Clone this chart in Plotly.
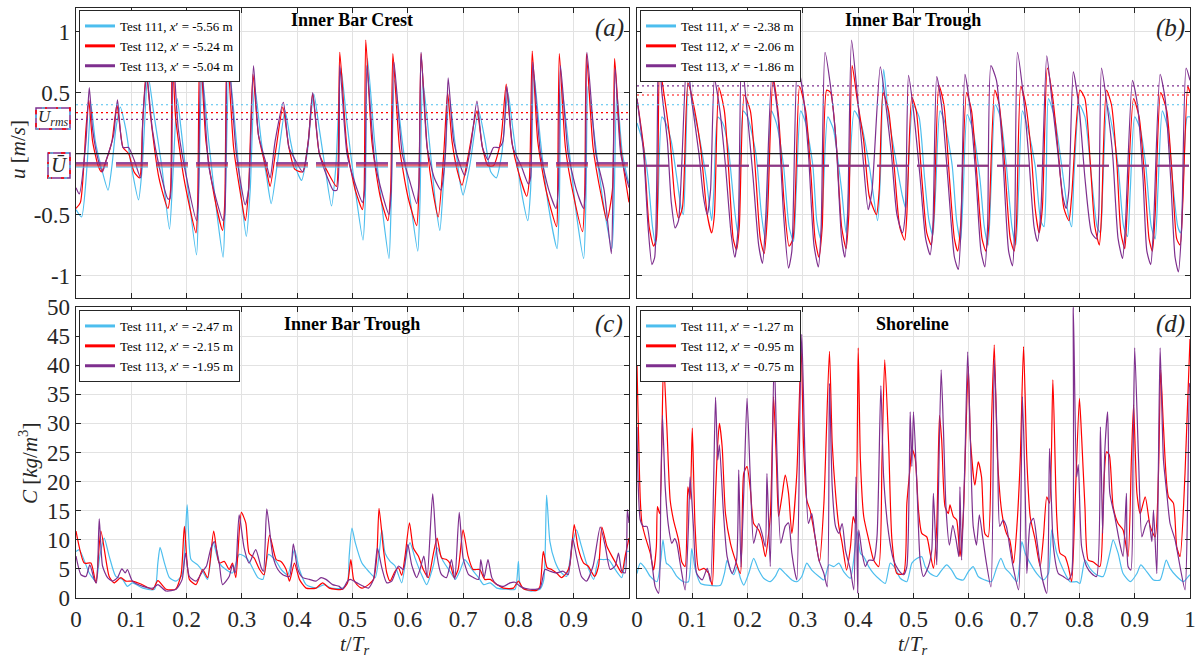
import plotly.graph_objects as go

# ---------------- DATA ----------------
# Panel (a) Inner Bar Crest: (t/Tr, u [m/s])
a111 = [(0,-0.46),(0.01,-0.52),(0.02,-0.1),(0.027,0.4),(0.035,0.1),(0.045,-0.1),(0.058,-0.3),(0.065,-0.1),(0.072,0.2),(0.08,0.38),(0.09,0.2),(0.1,-0.1),(0.113,-0.38),(0.12,-0.1),(0.13,0.65),(0.14,0.35),(0.155,-0.1),(0.169,-0.62),(0.175,-0.2),(0.183,0.45),(0.19,0.2),(0.2,-0.2),(0.218,-0.83),(0.222,-0.3),(0.228,0.65),(0.24,0.1),(0.255,-0.5),(0.266,-0.85),(0.27,-0.4),(0.277,0.7),(0.29,0.1),(0.3,-0.4),(0.308,-0.68),(0.315,-0.3),(0.323,0.55),(0.335,0.1),(0.345,-0.2),(0.353,-0.41),(0.365,-0.05),(0.378,0.35),(0.388,0.1),(0.4,-0.15),(0.408,-0.22),(0.418,0.0),(0.43,0.49),(0.44,0.2),(0.45,-0.1),(0.462,-0.43),(0.47,-0.1),(0.479,0.7),(0.49,0.25),(0.505,-0.3),(0.519,-0.71),(0.523,-0.4),(0.527,0.78),(0.54,0.1),(0.555,-0.5),(0.566,-0.86),(0.57,-0.4),(0.576,0.6),(0.59,0.1),(0.605,-0.4),(0.618,-0.8),(0.622,-0.4),(0.627,0.6),(0.64,0.05),(0.65,-0.4),(0.658,-0.63),(0.665,-0.2),(0.675,0.45),(0.685,0.1),(0.695,-0.25),(0.7,-0.34),(0.712,-0.1),(0.728,0.35),(0.74,0.1),(0.75,-0.15),(0.76,-0.2),(0.77,0.0),(0.781,0.5),(0.79,0.2),(0.805,-0.3),(0.817,-0.55),(0.822,-0.3),(0.828,0.65),(0.84,0.1),(0.855,-0.45),(0.87,-0.78),(0.874,-0.4),(0.878,0.55),(0.89,0.1),(0.905,-0.5),(0.918,-0.86),(0.922,-0.4),(0.926,0.55),(0.94,0.05),(0.955,-0.45),(0.969,-0.78),(0.973,-0.4),(0.978,0.5),(0.988,0.0),(1.0,-0.25)]
a112 = [(0,-0.45),(0.008,-0.4),(0.018,0.2),(0.023,0.44),(0.03,0.1),(0.04,-0.1),(0.046,-0.15),(0.055,-0.05),(0.065,0.1),(0.074,0.4),(0.085,0.05),(0.095,0.0),(0.105,-0.15),(0.115,-0.2),(0.12,0.2),(0.127,0.68),(0.135,0.3),(0.15,-0.2),(0.166,-0.45),(0.171,-0.3),(0.174,0.85),(0.18,0.3),(0.195,-0.2),(0.217,-0.65),(0.22,-0.4),(0.224,0.9),(0.235,0.1),(0.25,-0.35),(0.265,-0.63),(0.269,-0.4),(0.273,0.88),(0.285,0.05),(0.3,-0.4),(0.306,-0.55),(0.312,-0.3),(0.32,0.65),(0.33,0.15),(0.345,-0.15),(0.351,-0.27),(0.362,0.05),(0.374,0.38),(0.385,0.05),(0.396,-0.13),(0.41,-0.15),(0.42,0.1),(0.428,0.49),(0.44,0.0),(0.455,-0.15),(0.471,-0.27),(0.474,-0.1),(0.477,0.83),(0.49,0.05),(0.505,-0.3),(0.518,-0.46),(0.521,-0.3),(0.524,0.93),(0.535,0.1),(0.55,-0.35),(0.564,-0.55),(0.569,-0.3),(0.573,0.82),(0.585,0.05),(0.6,-0.35),(0.616,-0.59),(0.62,-0.3),(0.624,0.82),(0.635,0.05),(0.645,-0.3),(0.655,-0.52),(0.665,0.0),(0.672,0.5),(0.68,0.1),(0.69,-0.15),(0.698,-0.26),(0.71,0.0),(0.725,0.35),(0.735,0.05),(0.745,-0.1),(0.755,-0.1),(0.768,0.1),(0.778,0.57),(0.788,0.1),(0.8,-0.15),(0.815,-0.35),(0.82,-0.2),(0.825,0.84),(0.835,0.1),(0.85,-0.3),(0.869,-0.6),(0.871,-0.3),(0.874,0.82),(0.885,0.05),(0.9,-0.35),(0.916,-0.64),(0.92,-0.3),(0.923,0.82),(0.935,0.05),(0.95,-0.35),(0.96,-0.55),(0.97,-0.3),(0.974,0.78),(0.985,0.05),(1.0,-0.4)]
a113 = [(0,-0.28),(0.006,-0.33),(0.018,0.1),(0.024,0.54),(0.03,0.2),(0.04,-0.05),(0.048,-0.15),(0.055,-0.05),(0.062,0.05),(0.068,0.15),(0.075,0.44),(0.085,0.05),(0.095,0.05),(0.105,-0.05),(0.117,-0.2),(0.121,0.3),(0.128,0.64),(0.138,0.2),(0.15,-0.1),(0.166,-0.37),(0.17,-0.37),(0.175,0.85),(0.185,0.2),(0.2,-0.2),(0.218,-0.55),(0.221,-0.4),(0.226,0.8),(0.24,-0.1),(0.255,-0.4),(0.266,-0.55),(0.269,-0.5),(0.274,0.88),(0.29,0.0),(0.306,-0.42),(0.312,-0.3),(0.321,0.72),(0.33,0.15),(0.345,-0.1),(0.351,-0.2),(0.36,0.1),(0.375,0.42),(0.385,0.05),(0.396,-0.05),(0.41,-0.15),(0.42,0.1),(0.428,0.5),(0.44,0.0),(0.455,-0.2),(0.465,-0.3),(0.472,-0.3),(0.477,0.72),(0.49,0.0),(0.505,-0.25),(0.518,-0.4),(0.522,-0.3),(0.526,0.72),(0.54,-0.05),(0.555,-0.35),(0.566,-0.5),(0.57,-0.3),(0.575,0.75),(0.59,0.0),(0.605,-0.25),(0.616,-0.41),(0.62,-0.25),(0.624,0.83),(0.635,0.05),(0.648,-0.2),(0.66,-0.3),(0.668,0.0),(0.673,0.62),(0.683,0.1),(0.695,-0.1),(0.703,-0.18),(0.715,0.1),(0.725,0.43),(0.735,0.05),(0.745,-0.05),(0.755,0.05),(0.765,0.05),(0.772,0.1),(0.779,0.55),(0.79,0.05),(0.805,-0.1),(0.818,-0.25),(0.822,-0.2),(0.826,0.75),(0.84,0.0),(0.855,-0.3),(0.868,-0.45),(0.872,-0.3),(0.876,0.72),(0.89,0.0),(0.905,-0.3),(0.918,-0.45),(0.921,-0.3),(0.924,0.83),(0.94,0.0),(0.955,-0.3),(0.968,-0.82),(0.971,-0.3),(0.975,0.7),(0.985,0.0),(1.0,-0.28)]

# Panel (b) Inner Bar Trough: (t/Tr, u [m/s])
b111 = [(0,0.25),(0.01,0.1),(0.02,-0.2),(0.028,-0.6),(0.034,-0.75),(0.038,-0.4),(0.045,0.3),(0.052,0.25),(0.062,0.1),(0.072,-0.2),(0.08,-0.45),(0.084,-0.5),(0.088,0.0),(0.093,0.65),(0.1,0.4),(0.11,0.2),(0.125,-0.2),(0.135,-0.55),(0.139,-0.3),(0.146,0.3),(0.155,0.25),(0.165,0.05),(0.175,-0.4),(0.182,-0.65),(0.186,-0.3),(0.192,0.35),(0.2,0.3),(0.215,0.0),(0.225,-0.5),(0.232,-0.7),(0.236,-0.3),(0.243,0.35),(0.252,0.25),(0.265,-0.1),(0.275,-0.6),(0.283,-0.72),(0.288,-0.3),(0.296,0.35),(0.305,0.25),(0.318,-0.1),(0.325,-0.55),(0.332,-0.7),(0.337,-0.3),(0.345,0.3),(0.355,0.2),(0.37,-0.3),(0.378,-0.65),(0.383,-0.3),(0.393,0.35),(0.405,0.25),(0.42,-0.1),(0.435,-0.55),(0.44,-0.2),(0.446,0.69),(0.455,0.3),(0.47,-0.1),(0.48,-0.35),(0.486,-0.45),(0.49,-0.2),(0.499,0.4),(0.51,0.3),(0.52,-0.2),(0.528,-0.55),(0.535,-0.67),(0.54,-0.3),(0.548,0.35),(0.557,0.25),(0.57,-0.1),(0.578,-0.55),(0.585,-0.72),(0.59,-0.3),(0.597,0.32),(0.607,0.2),(0.62,-0.2),(0.628,-0.6),(0.635,-0.75),(0.64,-0.3),(0.648,0.4),(0.657,0.3),(0.668,-0.1),(0.678,-0.6),(0.685,-0.75),(0.69,-0.3),(0.697,0.35),(0.707,0.2),(0.72,-0.1),(0.73,-0.55),(0.736,-0.6),(0.74,-0.2),(0.744,0.45),(0.755,0.3),(0.768,-0.1),(0.78,-0.5),(0.786,-0.6),(0.79,-0.2),(0.8,0.4),(0.81,0.3),(0.822,-0.2),(0.832,-0.6),(0.838,-0.65),(0.842,-0.3),(0.85,0.4),(0.86,0.2),(0.87,-0.1),(0.88,-0.6),(0.887,-0.68),(0.892,-0.3),(0.9,0.3),(0.91,0.2),(0.92,-0.1),(0.93,-0.6),(0.937,-0.7),(0.942,-0.3),(0.95,0.35),(0.96,0.2),(0.97,-0.3),(0.978,-0.6),(0.983,-0.65),(0.988,-0.2),(0.995,0.3),(1.0,0.3)]
b112 = [(0,0.45),(0.012,0.05),(0.022,-0.6),(0.03,-0.76),(0.035,-0.7),(0.041,0.7),(0.05,0.45),(0.06,0.1),(0.068,-0.35),(0.075,-0.53),(0.082,-0.45),(0.092,0.58),(0.1,0.45),(0.115,0.05),(0.127,-0.5),(0.135,-0.65),(0.14,-0.5),(0.148,0.54),(0.158,0.35),(0.168,-0.3),(0.174,-0.7),(0.18,-0.79),(0.185,-0.6),(0.194,0.48),(0.205,0.35),(0.215,-0.2),(0.223,-0.7),(0.23,-0.82),(0.236,-0.5),(0.246,0.62),(0.256,0.3),(0.266,-0.4),(0.275,-0.76),(0.282,-0.7),(0.294,0.55),(0.305,0.35),(0.315,-0.2),(0.322,-0.7),(0.329,-0.85),(0.335,-0.6),(0.343,0.52),(0.35,0.5),(0.36,0.1),(0.37,-0.6),(0.378,-0.78),(0.383,-0.5),(0.389,0.72),(0.398,0.45),(0.41,0.1),(0.42,-0.35),(0.433,-0.5),(0.438,-0.3),(0.445,0.5),(0.455,0.35),(0.465,-0.1),(0.475,-0.6),(0.484,-0.71),(0.488,-0.5),(0.497,0.46),(0.505,0.35),(0.515,-0.2),(0.524,-0.65),(0.532,-0.75),(0.537,-0.5),(0.546,0.56),(0.555,0.4),(0.565,-0.2),(0.574,-0.7),(0.58,-0.8),(0.585,-0.6),(0.596,0.5),(0.605,0.35),(0.615,-0.2),(0.624,-0.7),(0.631,-0.8),(0.636,-0.6),(0.647,0.52),(0.655,0.4),(0.665,-0.1),(0.675,-0.7),(0.682,-0.8),(0.686,-0.6),(0.694,0.55),(0.703,0.4),(0.713,0.0),(0.72,-0.45),(0.727,-0.65),(0.733,-0.45),(0.742,0.7),(0.752,0.45),(0.762,0.0),(0.772,-0.45),(0.781,-0.55),(0.786,-0.35),(0.801,0.52),(0.81,0.45),(0.82,-0.1),(0.828,-0.6),(0.836,-0.75),(0.84,-0.5),(0.849,0.52),(0.858,0.4),(0.868,-0.1),(0.875,-0.65),(0.882,-0.78),(0.886,-0.5),(0.898,0.45),(0.908,0.3),(0.918,-0.2),(0.926,-0.7),(0.932,-0.8),(0.937,-0.5),(0.947,0.5),(0.958,0.35),(0.968,-0.2),(0.976,-0.7),(0.982,-0.75),(0.987,-0.4),(0.996,0.55),(1.0,0.5)]
b113 = [(0,0.45),(0.012,0.0),(0.02,-0.6),(0.027,-0.91),(0.032,-0.85),(0.039,0.89),(0.045,0.5),(0.055,0.1),(0.062,-0.4),(0.069,-0.61),(0.075,-0.55),(0.09,0.77),(0.1,0.4),(0.112,0.0),(0.12,-0.35),(0.127,-0.5),(0.133,-0.3),(0.14,0.61),(0.15,0.35),(0.16,-0.1),(0.17,-0.65),(0.177,-0.85),(0.183,-0.6),(0.189,0.78),(0.2,0.3),(0.21,-0.2),(0.22,-0.75),(0.227,-0.9),(0.233,-0.5),(0.244,0.64),(0.255,0.3),(0.265,-0.5),(0.274,-0.94),(0.28,-0.8),(0.29,0.72),(0.3,0.5),(0.31,0.0),(0.32,-0.75),(0.328,-0.93),(0.333,-0.6),(0.34,0.83),(0.35,0.55),(0.36,0.1),(0.37,-0.7),(0.376,-0.85),(0.381,-0.5),(0.388,0.93),(0.398,0.5),(0.408,0.0),(0.418,-0.46),(0.425,-0.3),(0.44,0.71),(0.45,0.4),(0.46,0.0),(0.47,-0.5),(0.48,-0.65),(0.485,-0.5),(0.491,0.64),(0.5,0.35),(0.512,-0.2),(0.522,-0.7),(0.53,-0.83),(0.535,-0.6),(0.542,0.63),(0.552,0.35),(0.562,-0.2),(0.574,-0.85),(0.581,-0.95),(0.586,-0.6),(0.593,0.65),(0.603,0.35),(0.613,-0.2),(0.622,-0.8),(0.629,-0.93),(0.634,-0.6),(0.64,0.72),(0.65,0.6),(0.66,0.1),(0.672,-0.8),(0.679,-0.92),(0.683,-0.6),(0.688,0.83),(0.698,0.5),(0.708,0.0),(0.718,-0.6),(0.724,-0.72),(0.73,-0.5),(0.741,0.8),(0.75,0.45),(0.76,0.05),(0.77,-0.35),(0.776,-0.45),(0.781,-0.3),(0.789,0.67),(0.8,0.35),(0.81,-0.2),(0.822,-0.65),(0.831,-0.7),(0.835,-0.5),(0.84,0.7),(0.85,0.4),(0.86,0.0),(0.87,-0.7),(0.878,-0.86),(0.883,-0.6),(0.896,0.6),(0.905,0.4),(0.915,-0.2),(0.922,-0.8),(0.929,-0.91),(0.934,-0.6),(0.946,0.65),(0.955,0.45),(0.965,-0.2),(0.973,-0.85),(0.979,-0.97),(0.985,-0.6),(0.993,0.7),(1.0,0.6)]

# Panel (c) Inner Bar Trough: (t/Tr, C [kg/m^3])
c111 = [(0,8),(0.006,8.3),(0.024,4.3),(0.036,2.9),(0.043,7.2),(0.051,10.3),(0.06,7.2),(0.072,3.7),(0.084,3.2),(0.093,2),(0.102,2.6),(0.121,1.7),(0.142,1.5),(0.148,6),(0.152,8.7),(0.16,6),(0.169,3.5),(0.181,2.9),(0.192,4),(0.201,16),(0.208,6.6),(0.22,5.7),(0.229,4.6),(0.238,3.2),(0.248,9.5),(0.259,6),(0.271,4.9),(0.283,4.3),(0.295,7.5),(0.304,7.2),(0.313,6.3),(0.329,3.5),(0.338,3.2),(0.348,7.5),(0.362,6.3),(0.371,4.9),(0.383,4),(0.395,8.3),(0.404,4.9),(0.416,2.3),(0.434,1.7),(0.449,2.3),(0.461,1.7),(0.482,1.7),(0.491,2.6),(0.494,7.2),(0.499,12),(0.505,9.5),(0.517,6),(0.529,4.6),(0.541,3.5),(0.549,8.3),(0.553,11.7),(0.559,7.7),(0.568,6.3),(0.577,5.5),(0.589,2.6),(0.598,7.7),(0.604,9.5),(0.613,6.9),(0.625,4),(0.634,2.3),(0.646,5.5),(0.653,8.6),(0.664,6.3),(0.676,4.6),(0.686,3.2),(0.694,4.6),(0.703,6.6),(0.716,4.9),(0.728,3.5),(0.737,2.3),(0.749,2.6),(0.761,1.7),(0.779,1.5),(0.794,1.5),(0.8,6.3),(0.804,2),(0.821,1.2),(0.839,1.5),(0.846,3.2),(0.851,17.7),(0.857,9.7),(0.866,6.3),(0.875,4.6),(0.887,3.7),(0.896,8.3),(0.905,11.7),(0.914,8.9),(0.923,6),(0.936,3.2),(0.945,6.6),(0.954,6.6),(0.963,6.6),(0.975,4.9),(0.987,3.5),(0.996,8),(1.0,8)]
c112 = [(0,11.5),(0.015,6),(0.027,6),(0.036,2.6),(0.045,11.5),(0.06,3.7),(0.069,2.6),(0.081,3.5),(0.09,2.9),(0.102,2.9),(0.115,2.5),(0.139,1.5),(0.148,3),(0.163,1.5),(0.18,1.5),(0.19,4),(0.196,12.3),(0.205,3.2),(0.217,2.3),(0.229,4.9),(0.238,3.5),(0.249,11.5),(0.259,6),(0.268,6.3),(0.277,4.9),(0.283,6),(0.289,3.5),(0.299,14.7),(0.307,12.9),(0.313,7.7),(0.322,6.9),(0.332,4.9),(0.34,4),(0.35,10.8),(0.362,6.6),(0.37,6.3),(0.38,4.9),(0.386,2.9),(0.395,6),(0.404,3.2),(0.416,1.7),(0.434,1.7),(0.446,2.6),(0.458,1.7),(0.482,1.5),(0.491,2.6),(0.497,6.6),(0.502,3.2),(0.508,2.3),(0.517,1.7),(0.529,2.3),(0.538,3.2),(0.544,7.2),(0.548,15.4),(0.556,8.3),(0.562,4.3),(0.568,2.9),(0.577,4.6),(0.583,5.2),(0.589,3.9),(0.595,7.2),(0.603,12.9),(0.61,8.6),(0.619,7.2),(0.628,4.9),(0.637,3.5),(0.646,7.5),(0.653,10.3),(0.661,6.9),(0.67,6.6),(0.676,6),(0.684,3.5),(0.691,4.9),(0.7,11.7),(0.709,7.2),(0.718,4.9),(0.73,4.9),(0.739,3.2),(0.749,3.2),(0.761,2.3),(0.773,1.7),(0.791,1.7),(0.8,2.9),(0.809,1.6),(0.833,1.3),(0.839,2),(0.845,8),(0.852,5.2),(0.86,4.9),(0.869,4.3),(0.878,3.5),(0.887,4.3),(0.893,5.7),(0.901,12.6),(0.908,8.6),(0.918,6),(0.926,5.5),(0.938,3.7),(0.945,5.5),(0.951,12.2),(0.96,8.9),(0.969,7.2),(0.978,5.7),(0.987,4.3),(0.993,7.2),(1.0,10.3)]
c113 = [(0,7.2),(0.009,4),(0.018,3.7),(0.025,5.7),(0.033,3.2),(0.037,2.6),(0.042,13.6),(0.048,5.5),(0.057,3.5),(0.066,2.9),(0.075,3.5),(0.083,5),(0.089,4.3),(0.093,4.9),(0.102,2.9),(0.121,2),(0.139,1.7),(0.148,2.3),(0.163,1.2),(0.181,1.5),(0.192,3.2),(0.198,7.7),(0.205,3.7),(0.217,2.9),(0.229,4.6),(0.236,5.5),(0.244,8.6),(0.25,9.7),(0.259,6),(0.265,2.3),(0.277,3.7),(0.283,5.7),(0.288,4.3),(0.295,14.3),(0.304,8.6),(0.313,6),(0.325,8.3),(0.335,5.2),(0.339,4.6),(0.345,15.3),(0.356,7.2),(0.365,4.9),(0.374,4),(0.386,3.7),(0.393,9.3),(0.401,4.9),(0.41,3.5),(0.422,3.2),(0.434,2.9),(0.443,3.5),(0.452,3.2),(0.464,2.3),(0.476,2),(0.482,1.5),(0.491,2.9),(0.496,3.2),(0.508,2.6),(0.52,2),(0.529,1.7),(0.538,3.2),(0.545,8.6),(0.553,5.2),(0.562,2.6),(0.571,2.9),(0.583,5.5),(0.592,4.9),(0.6,9.2),(0.607,5.7),(0.616,3.5),(0.622,4.9),(0.629,7.2),(0.635,3.5),(0.645,17.9),(0.653,7.2),(0.661,4),(0.67,3.5),(0.679,6.6),(0.685,3.2),(0.693,14.7),(0.7,6.9),(0.71,4),(0.719,3.5),(0.728,3.2),(0.732,6.6),(0.738,3.5),(0.745,6.6),(0.752,3.5),(0.761,2.3),(0.773,2),(0.785,2.6),(0.794,2.7),(0.803,2),(0.821,1.5),(0.839,1.7),(0.848,4.9),(0.857,4.6),(0.869,4.3),(0.881,4.6),(0.89,4),(0.898,10.3),(0.905,7.2),(0.914,3.7),(0.923,2.9),(0.935,5.5),(0.948,12.2),(0.957,8.9),(0.966,4.9),(0.975,5.5),(0.981,7.7),(0.987,4.6),(0.993,4.3),(0.997,15.2),(1.0,12.9)]

# Panel (d) Shoreline: (t/Tr, C [kg/m^3])
d111 = [(0,4.2),(0.006,6),(0.015,5.1),(0.024,3.7),(0.036,2.8),(0.043,6.5),(0.047,10),(0.053,6),(0.057,5.7),(0.063,5.1),(0.072,3.7),(0.084,2.8),(0.093,2.8),(0.099,8.5),(0.105,5.1),(0.115,2.5),(0.127,2.2),(0.151,2.2),(0.158,4.2),(0.163,6.5),(0.169,4.8),(0.175,4),(0.181,5.4),(0.187,3.4),(0.193,2.2),(0.202,4.2),(0.211,6.8),(0.22,4.8),(0.229,3.4),(0.241,2.8),(0.25,3.7),(0.258,5.1),(0.268,4.2),(0.28,3.1),(0.289,2.8),(0.298,3.7),(0.307,6),(0.316,4.8),(0.329,3.7),(0.338,3.1),(0.347,5.7),(0.356,5.4),(0.365,6),(0.374,4.5),(0.386,3.4),(0.398,11.4),(0.404,7.7),(0.41,7.1),(0.419,5.4),(0.428,4.2),(0.44,3.1),(0.449,2.5),(0.458,6),(0.467,5.1),(0.476,3.4),(0.488,2.8),(0.497,6),(0.506,6.8),(0.515,7.1),(0.521,5.4),(0.53,4.2),(0.542,3.7),(0.551,4.8),(0.56,5.7),(0.569,4.8),(0.578,3.4),(0.59,3.1),(0.599,4.5),(0.608,5.4),(0.617,3.7),(0.629,3.1),(0.641,2.8),(0.65,5.1),(0.658,6.8),(0.666,5.1),(0.675,4.2),(0.687,2.8),(0.696,9.7),(0.702,7.7),(0.711,6),(0.723,4.2),(0.735,3.1),(0.744,4.2),(0.75,11.7),(0.759,7.7),(0.771,4.8),(0.783,2.8),(0.795,2.8),(0.801,2.5),(0.81,6.5),(0.819,5.1),(0.831,4),(0.843,3.7),(0.855,7.7),(0.861,10),(0.87,7.7),(0.879,4.2),(0.892,2.8),(0.904,4.2),(0.911,5.7),(0.922,4.5),(0.934,3.1),(0.946,3.1),(0.957,6.5),(0.964,5.1),(0.976,3.7),(0.988,2.8),(0.997,3.7),(1.0,4)]
d112 = [(0,40),(0.006,16.8),(0.009,12.8),(0.015,10.5),(0.024,7.7),(0.03,4.8),(0.035,8.8),(0.037,15.7),(0.041,14.5),(0.048,40.6),(0.054,29.4),(0.06,16.8),(0.066,13.4),(0.075,10),(0.081,6.2),(0.087,5.4),(0.092,19.1),(0.096,17),(0.1,29.2),(0.105,12.3),(0.112,4.8),(0.121,5.1),(0.13,4.2),(0.136,2.2),(0.14,12.3),(0.145,24.9),(0.149,30),(0.154,26),(0.16,14.5),(0.169,9.4),(0.178,6.5),(0.187,4.2),(0.193,21.4),(0.199,22.6),(0.205,18.6),(0.211,12.8),(0.22,11.7),(0.226,10),(0.232,7.1),(0.241,14),(0.247,34.6),(0.252,23.7),(0.256,14),(0.262,17.4),(0.268,21.1),(0.274,18),(0.28,11.1),(0.289,21.4),(0.297,43),(0.301,26.6),(0.307,16.8),(0.313,15.1),(0.322,10.5),(0.33,6.2),(0.338,16.3),(0.348,42.4),(0.353,26.6),(0.359,18),(0.365,12.3),(0.371,9.4),(0.379,4.8),(0.386,8.8),(0.391,14),(0.395,12.8),(0.4,43),(0.404,23.7),(0.41,14),(0.419,10),(0.428,6.5),(0.437,5.4),(0.443,23.7),(0.448,40.9),(0.455,26.6),(0.461,10),(0.47,4.2),(0.482,4.2),(0.488,16.3),(0.494,22.6),(0.497,25.7),(0.503,24),(0.509,15.1),(0.515,11.1),(0.524,10.5),(0.53,7.7),(0.536,5.1),(0.542,12.3),(0.547,31.4),(0.551,27.1),(0.557,15.7),(0.563,14.5),(0.566,16),(0.572,14),(0.578,13.4),(0.584,7.1),(0.59,14),(0.599,39.8),(0.603,27.1),(0.611,19.4),(0.617,23.4),(0.623,20.8),(0.629,11.1),(0.635,10.5),(0.641,30),(0.646,43.5),(0.652,23.7),(0.66,14.5),(0.668,11.1),(0.674,10),(0.681,6),(0.687,12.3),(0.693,23.7),(0.699,43.2),(0.705,23.7),(0.711,14),(0.72,10),(0.729,5.4),(0.735,10.5),(0.741,17.4),(0.746,16.3),(0.752,37.5),(0.759,14),(0.765,7.7),(0.774,7.1),(0.78,5.4),(0.786,2.8),(0.792,15.7),(0.8,34.3),(0.804,27.7),(0.81,15.7),(0.816,6.5),(0.825,6.2),(0.837,5.4),(0.843,16.8),(0.849,25.1),(0.854,24.6),(0.861,15.7),(0.87,12.8),(0.879,11.7),(0.888,7.1),(0.894,23.7),(0.898,33.2),(0.904,18),(0.91,14.5),(0.919,17.4),(0.928,12.3),(0.937,10.5),(0.943,21.4),(0.947,39.2),(0.952,29.4),(0.961,17.4),(0.97,16.3),(0.976,8.8),(0.982,7.1),(0.991,21.4),(1.0,44.5)]
d113 = [(0,29.4),(0.006,13.4),(0.012,12.3),(0.018,12.3),(0.027,6),(0.033,1.9),(0.039,0.8),(0.043,18),(0.046,31.4),(0.051,19.1),(0.057,12.3),(0.063,9.4),(0.068,10.2),(0.072,9.4),(0.078,6),(0.087,1.4),(0.093,12.3),(0.096,20.8),(0.102,12.3),(0.108,4.2),(0.118,3.1),(0.127,5.1),(0.133,2.8),(0.142,34.5),(0.146,23.7),(0.149,26.3),(0.156,15.1),(0.163,7.1),(0.172,4.2),(0.18,6.5),(0.184,22),(0.188,5.3),(0.194,20.8),(0.199,34.3),(0.205,20.3),(0.211,9.4),(0.22,12.8),(0.226,11.1),(0.232,8.8),(0.235,21.4),(0.241,5.4),(0.248,41.8),(0.253,24.9),(0.26,9.4),(0.268,12.3),(0.274,12.9),(0.28,7.7),(0.286,4.2),(0.289,3.1),(0.295,34.6),(0.298,45.3),(0.304,23.7),(0.31,12.8),(0.316,14.5),(0.322,10.5),(0.329,6.5),(0.338,4.2),(0.344,1.9),(0.348,36.9),(0.353,19.1),(0.359,12.3),(0.365,11.1),(0.371,12.8),(0.377,8.2),(0.386,4.8),(0.392,1.4),(0.396,20.8),(0.399,0.8),(0.401,11.7),(0.407,7.7),(0.413,5.4),(0.419,6.5),(0.428,6.5),(0.434,10.5),(0.441,36.5),(0.446,20.8),(0.455,11.1),(0.464,6.5),(0.473,4.8),(0.482,4),(0.488,5.4),(0.494,32),(0.497,22.6),(0.5,32),(0.506,19.7),(0.512,6.5),(0.518,3.7),(0.527,5.4),(0.533,8.2),(0.536,18),(0.542,5.7),(0.545,18),(0.55,39.2),(0.554,29.4),(0.559,15.1),(0.565,9.1),(0.571,12.5),(0.577,10),(0.582,7.1),(0.584,19.1),(0.587,6.5),(0.593,23.7),(0.598,42.3),(0.603,26.6),(0.608,12.3),(0.614,9.1),(0.619,14.3),(0.625,10.5),(0.631,6.5),(0.64,1.9),(0.646,40.9),(0.652,25.4),(0.656,12.3),(0.662,13.4),(0.668,12.3),(0.674,8.8),(0.68,5.4),(0.69,1.4),(0.694,15.1),(0.697,34.6),(0.702,18),(0.705,4.2),(0.711,12.8),(0.717,13.7),(0.723,10),(0.732,3.7),(0.741,0.8),(0.746,25.7),(0.753,8.8),(0.762,4.2),(0.771,3.7),(0.78,3.1),(0.786,4.2),(0.789,50),(0.795,20.8),(0.798,22.9),(0.804,8.8),(0.813,5.4),(0.822,4.2),(0.831,3.7),(0.838,29.4),(0.842,11.1),(0.846,25.4),(0.851,32),(0.855,18),(0.864,14),(0.873,9.4),(0.879,7.1),(0.885,18),(0.888,5.4),(0.893,4.8),(0.897,23.7),(0.9,43),(0.907,23.7),(0.913,10.5),(0.919,12.3),(0.925,13.4),(0.931,9.7),(0.934,15.1),(0.94,4.2),(0.943,23.7),(0.946,43),(0.952,23.7),(0.958,18),(0.964,12.8),(0.973,10),(0.982,5.4),(0.991,1.4),(0.996,18),(0.999,36.9),(1.0,36.3)]

# Mean (U-bar) and RMS (U_rms) velocities, order: Test 111, 112, 113
ubar_a = [-0.108, -0.095, -0.08]
urms_a = [0.40, 0.335, 0.28]
ubar_b = [-0.10, -0.10, -0.10]
urms_b = [0.40, 0.48, 0.555]

tests = ["111", "112", "113"]
xpos_a = ["-5.56", "-5.24", "-5.04"]
xpos_b = ["-2.38", "-2.06", "-1.86"]
xpos_c = ["-2.47", "-2.15", "-1.95"]
xpos_d = ["-1.27", "-0.95", "-0.75"]
titles = ["Inner Bar Crest", "Inner Bar Trough", "Inner Bar Trough", "Shoreline"]
tags = ["(a)", "(b)", "(c)", "(d)"]
x_ticks = [0, 0.1, 0.2, 0.3, 0.4, 0.5, 0.6, 0.7, 0.8, 0.9, 1.0]
x_ticktext_c = ["0", "0.1", "0.2", "0.3", "0.4", "0.5", "0.6", "0.7", "0.8", "0.9", ""]
x_ticktext_d = ["0", "0.1", "0.2", "0.3", "0.4", "0.5", "0.6", "0.7", "0.8", "0.9", "1"]
u_ticks = [-1, -0.5, 0, 0.5, 1]
u_ticktext = ["-1", "-0.5", "", "0.5", "1"]
c_ticks = [0, 5, 10, 15, 20, 25, 30, 35, 40, 45, 50]

# ---------------- STYLE ----------------
COLORS = ["#4DBEEE", "#FF0000", "#7E2F8E"]
FONT = "Liberation Serif, DejaVu Serif, serif"
INK = "#262626"
W, H = 1198, 657

fig = go.Figure()

def add_series(pairs, color, xa, ya):
    t = [p[0] for p in pairs]
    v = [p[1] for p in pairs]
    fig.add_trace(go.Scatter(x=t, y=v, mode="lines",
                             line=dict(color=color, width=1.2, shape="spline", smoothing=0.6),
                             xaxis=xa, yaxis=ya, showlegend=False, hoverinfo="skip"))

def add_legend(xpos, xa, ya, leg):
    for i in range(3):
        fig.add_trace(go.Scatter(x=[None], y=[None], mode="lines",
                                 line=dict(color=COLORS[i], width=3),
                                 name=f"Test {tests[i]}, <i>x</i>′ = {xpos[i]} m",
                                 xaxis=xa, yaxis=ya, legend=leg, showlegend=True))

def hline(val, xa, ya, color, width, dash, opacity=1.0):
    fig.add_trace(go.Scatter(x=[0, 1], y=[val, val], mode="lines",
                             line=dict(color=color, width=width, dash=dash), opacity=opacity,
                             xaxis=xa, yaxis=ya, showlegend=False, hoverinfo="skip"))

panels = [
    ("x", "y", [a111, a112, a113], xpos_a, "legend"),
    ("x2", "y2", [b111, b112, b113], xpos_b, "legend2"),
    ("x3", "y3", [c111, c112, c113], xpos_c, "legend3"),
    ("x4", "y4", [d111, d112, d113], xpos_d, "legend4"),
]
for xa, ya, series, xpos, leg in panels:
    add_legend(xpos, xa, ya, leg)
    for i, s in enumerate(series):
        add_series(s, COLORS[i], xa, ya)

# reference lines in the velocity panels
for xa, ya, ubar, urms, wbar in [("x", "y", ubar_a, urms_a, 2.6), ("x2", "y2", ubar_b, urms_b, 2.0)]:
    for i in range(3):
        hline(urms[i], xa, ya, COLORS[i], 1.2, "2px,3px")
    for i in range(3):
        op = 0.85 if i == 2 else 0.55
        hline(ubar[i], xa, ya, COLORS[i], wbar, "32px,8px", op)
    hline(0, xa, ya, "#1a1a1a", 1.3, "solid")

# ---------------- LAYOUT ----------------
def px2x(p):
    return p / W

def px2y(p):
    return 1 - p / H

XL = [px2x(76), px2x(629)]
XR = [px2x(637), px2x(1190)]
YT = [px2y(298), px2y(8)]
YB = [px2y(598), px2y(307)]

axis_common = dict(showline=True, linecolor=INK, linewidth=1.3, mirror="ticks",
                   ticks="inside", ticklen=5, tickwidth=1, tickcolor=INK,
                   showgrid=True, gridcolor="#e2e2e2", gridwidth=1, zeroline=False,
                   automargin=False, fixedrange=True,
                   tickfont=dict(family=FONT, size=23, color=INK))

fig.update_layout(
    width=W, height=H, margin=dict(l=0, r=0, t=0, b=0, autoexpand=False), autosize=False,
    paper_bgcolor="white", plot_bgcolor="white", hovermode=False,
    xaxis=dict(domain=XL, anchor="y", range=[0, 1], tickvals=x_ticks, showticklabels=False, **axis_common),
    yaxis=dict(domain=YT, anchor="x", range=[-1.184, 1.193], tickvals=u_ticks, ticktext=u_ticktext, **axis_common),
    xaxis2=dict(domain=XR, anchor="y2", range=[0, 1], tickvals=x_ticks, showticklabels=False, **axis_common),
    yaxis2=dict(domain=YT, anchor="x2", range=[-1.184, 1.193], tickvals=u_ticks, showticklabels=False, **axis_common),
    xaxis3=dict(domain=XL, anchor="y3", range=[0, 1], tickvals=x_ticks, ticktext=x_ticktext_c, **axis_common),
    yaxis3=dict(domain=YB, anchor="x3", range=[0, 50], tickvals=c_ticks, **axis_common),
    xaxis4=dict(domain=XR, anchor="y4", range=[0, 1], tickvals=x_ticks, ticktext=x_ticktext_d, **axis_common),
    yaxis4=dict(domain=YB, anchor="x4", range=[0, 50], tickvals=c_ticks, showticklabels=False, **axis_common),
)

leg_common = dict(font=dict(family=FONT, size=13, color="black"), bgcolor="white",
                  bordercolor=INK, borderwidth=1, xanchor="left", yanchor="top",
                  itemwidth=30, tracegroupgap=0, itemclick=False, itemdoubleclick=False)
fig.update_layout(
    legend=dict(x=px2x(79), y=px2y(10), **leg_common),
    legend2=dict(x=px2x(640), y=px2y(10), **leg_common),
    legend3=dict(x=px2x(79), y=px2y(310), **leg_common),
    legend4=dict(x=px2x(640), y=px2y(310), **leg_common),
)

def label(x, y, text, size, family=FONT, color=INK, angle=0, **kw):
    return dict(x=px2x(x), y=px2y(y), xref="paper", yref="paper", text=text, showarrow=False,
                textangle=angle, xanchor="center", yanchor="middle",
                font=dict(family=family, size=size, color=color), **kw)

ann = []
title_pos = [(352, 20), (913, 20), (352, 324), (913, 324)]
tag_pos = [(609, 28), (1170, 28), (609, 324), (1170, 324)]
for i in range(4):
    ann.append(label(title_pos[i][0], title_pos[i][1], f"<b>{titles[i]}</b>", 18, color="black"))
    ann.append(label(tag_pos[i][0], tag_pos[i][1], f"<i>{tags[i]}</i>", 25))
# axis titles
ann.append(label(18, 150, "<i>u</i> [<i>m</i>/<i>s</i>]", 21, angle=-90))
ann.append(label(28, 464, "<i>C</i> [<i>kg</i>/<i>m</i><sup>3</sup>]", 21, angle=-90))
for cx in (354, 913):
    ann.append(label(cx, 645, "<i>t</i>/<i>T</i><sub><i>r</i></sub>", 21))
# boxed labels replacing the zero tick
ann.append(label(53, 118, "<i>U</i><sub><i>rms</i></sub>", 17))
ann.append(label(59, 165, "<i>Ū</i>", 21))
fig.update_layout(annotations=ann)

# multi-coloured frames around the two boxed labels
shapes = []
for (x0, y0, x1, y1) in [(36, 108, 70, 129), (48, 153, 70, 178)]:
    for col, dash in [("#7E2F8E", "solid"), ("#FF0000", "4px,9px"), ("#4DBEEE", "3px,13px")]:
        shapes.append(dict(type="rect", xref="paper", yref="paper",
                           x0=px2x(x0), x1=px2x(x1), y0=px2y(y1), y1=px2y(y0),
                           line=dict(color=col, width=1.5, dash=dash), fillcolor="rgba(0,0,0,0)"))
fig.update_layout(shapes=shapes)

# the page is exactly the figure size: drop the default 8px body margin
fig.write_html("out.html", config={"displayModeBar": False, "staticPlot": True},
               post_script="document.body.style.margin='0';document.body.style.overflow='hidden';")
